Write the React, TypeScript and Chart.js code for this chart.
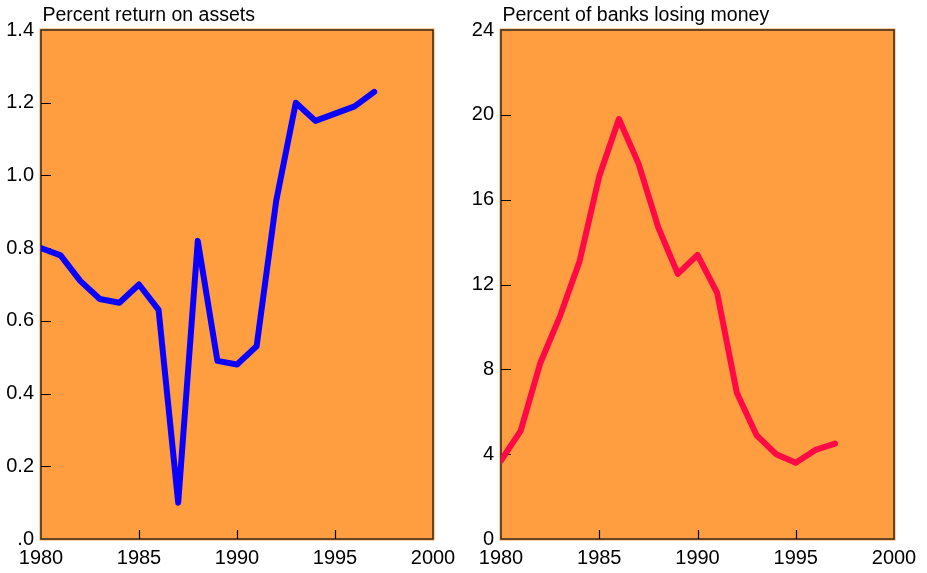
import React, { useEffect, useRef } from "react";
import { Chart, registerables } from "chart.js";

Chart.register(...registerables);

const years = [1980, 1981, 1982, 1983, 1984, 1985, 1986, 1987, 1988, 1989, 1990, 1991, 1992, 1993, 1994, 1995, 1996, 1997];
const returnOnAssets = [0.8, 0.78, 0.71, 0.66, 0.65, 0.7, 0.63, 0.1, 0.82, 0.49, 0.48, 0.53, 0.93, 1.2, 1.15, 1.17, 1.19, 1.23];
const banksLosingMoney = [3.7, 5.1, 8.3, 10.5, 13.1, 17.1, 19.8, 17.7, 14.7, 12.5, 13.4, 11.6, 6.9, 4.9, 4.0, 3.6, 4.2, 4.5];

const xTickValues = [1980, 1985, 1990, 1995, 2000];
const xTickLabels = ["1980", "1985", "1990", "1995", "2000"];
const xInnerTicks = [1985, 1990, 1995];

const leftYTickValues = [0, 0.2, 0.4, 0.6, 0.8, 1.0, 1.2, 1.4];
const leftYTickLabels = [".0", "0.2", "0.4", "0.6", "0.8", "1.0", "1.2", "1.4"];
const leftYInnerTicks = [0.2, 0.4, 0.6, 0.8, 1.0, 1.2];

const rightYTickValues = [0, 4, 8, 12, 16, 20, 24];
const rightYTickLabels = ["0", "4", "8", "12", "16", "20", "24"];
const rightYInnerTicks = [4, 8, 12, 16, 20];

const leftTitle = "Percent return on assets";
const rightTitle = "Percent of banks losing money";

const FONT = "'Liberation Sans', Arial, sans-serif";
const ORANGE = "#FF9E40";
const FRAME = "#33281e";

type PanelProps = {
  title: string;
  values: number[];
  color: string;
  yMax: number;
  yTickValues: number[];
  yTickLabels: string[];
  yInnerTicks: number[];
  width: number;
  areaLeft: number;
  areaRight: number;
};

function Panel(p: PanelProps) {
  const ref = useRef<HTMLCanvasElement | null>(null);
  useEffect(() => {
    if (!ref.current) return;
    const framePlugin = {
      id: "frame",
      beforeDatasetsDraw(chart: any) {
        const { ctx, chartArea } = chart;
        const { left, top, right, bottom } = chartArea;
        ctx.save();
        ctx.fillStyle = ORANGE;
        ctx.fillRect(left - 1.5, top - 1.5, right - left + 3, bottom - top + 3);
        ctx.strokeStyle = FRAME;
        ctx.lineWidth = 1.5;
        ctx.strokeRect(left, top, right - left, bottom - top);
        const xs = chart.scales.x;
        const ys = chart.scales.y;
        ctx.strokeStyle = "#000";
        ctx.lineWidth = 1.2;
        ctx.beginPath();
        for (const v of xInnerTicks) {
          const px = Math.round(xs.getPixelForValue(v)) + 0.5;
          ctx.moveTo(px, bottom);
          ctx.lineTo(px, bottom - 9);
        }
        for (const v of p.yInnerTicks) {
          const py = Math.round(ys.getPixelForValue(v)) + 0.5;
          ctx.moveTo(left, py);
          ctx.lineTo(left + 10, py);
        }
        ctx.stroke();
        ctx.restore();
      },
      afterDraw(chart: any) {
        const { ctx, chartArea } = chart;
        ctx.save();
        ctx.fillStyle = "#000";
        ctx.font = `19.5px ${FONT}`;
        ctx.textAlign = "left";
        ctx.textBaseline = "alphabetic";
        ctx.fillText(p.title, chartArea.left + 1.5, 21);
        ctx.restore();
      },
    };

    const chart = new Chart(ref.current, {
      type: "line",
      data: {
        datasets: [
          {
            data: years.map((y, i) => ({ x: y, y: p.values[i] })),
            borderColor: p.color,
            borderWidth: 6,
            pointRadius: 0,
            tension: 0,
            borderCapStyle: "round",
            borderJoinStyle: "round",
            fill: false,
          },
        ],
      },
      options: {
        animation: false,
        responsive: false,
        maintainAspectRatio: false,
        layout: { padding: { left: 0, top: 30, right: p.width - p.areaRight, bottom: 0 } },
        plugins: { legend: { display: false }, tooltip: { enabled: false }, title: { display: false } },
        scales: {
          x: {
            type: "linear",
            min: 1980,
            max: 2000,
            grid: { display: false, drawTicks: false },
            border: { display: false },
            afterBuildTicks: (s: any) => {
              s.ticks = xTickValues.map((v) => ({ value: v }));
            },
            afterFit: (s: any) => {
              s.height = 34;
              s.paddingLeft = 0;
              s.paddingRight = 0;
            },
            ticks: {
              autoSkip: false,
              maxRotation: 0,
              minRotation: 0,
              padding: 7,
              color: "#000",
              font: { family: FONT, size: 20 },
              callback: (v: any) => xTickLabels[xTickValues.indexOf(Number(v))] ?? "",
            },
          },
          y: {
            type: "linear",
            min: 0,
            max: p.yMax,
            grid: { display: false, drawTicks: false },
            border: { display: false },
            afterBuildTicks: (s: any) => {
              s.ticks = p.yTickValues.map((v) => ({ value: v }));
            },
            afterFit: (s: any) => {
              s.width = p.areaLeft;
              s.paddingTop = 0;
              s.paddingBottom = 0;
            },
            ticks: {
              autoSkip: false,
              padding: 7,
              color: "#000",
              font: { family: FONT, size: 20 },
              callback: (v: any) => {
                const i = p.yTickValues.findIndex((t) => Math.abs(t - Number(v)) < 1e-9);
                return i >= 0 ? p.yTickLabels[i] : "";
              },
            },
          },
        },
      },
      plugins: [framePlugin],
    } as any);
    return () => chart.destroy();
  }, []);
  return <canvas ref={ref} width={p.width} height={573} style={{ display: "block", width: p.width, height: 573 }} />;
}

export default function App() {
  return (
    <div style={{ position: "absolute", left: 0, top: 0, width: 927, height: 573, background: "#fff", display: "flex" }}>
      <Panel
        title={leftTitle}
        values={returnOnAssets}
        color="#0A00FF"
        yMax={1.4}
        yTickValues={leftYTickValues}
        yTickLabels={leftYTickLabels}
        yInnerTicks={leftYInnerTicks}
        width={463}
        areaLeft={41}
        areaRight={433}
      />
      <Panel
        title={rightTitle}
        values={banksLosingMoney}
        color="#FF0A46"
        yMax={24}
        yTickValues={rightYTickValues}
        yTickLabels={rightYTickLabels}
        yInnerTicks={rightYInnerTicks}
        width={464}
        areaLeft={38}
        areaRight={431}
      />
    </div>
  );
}
